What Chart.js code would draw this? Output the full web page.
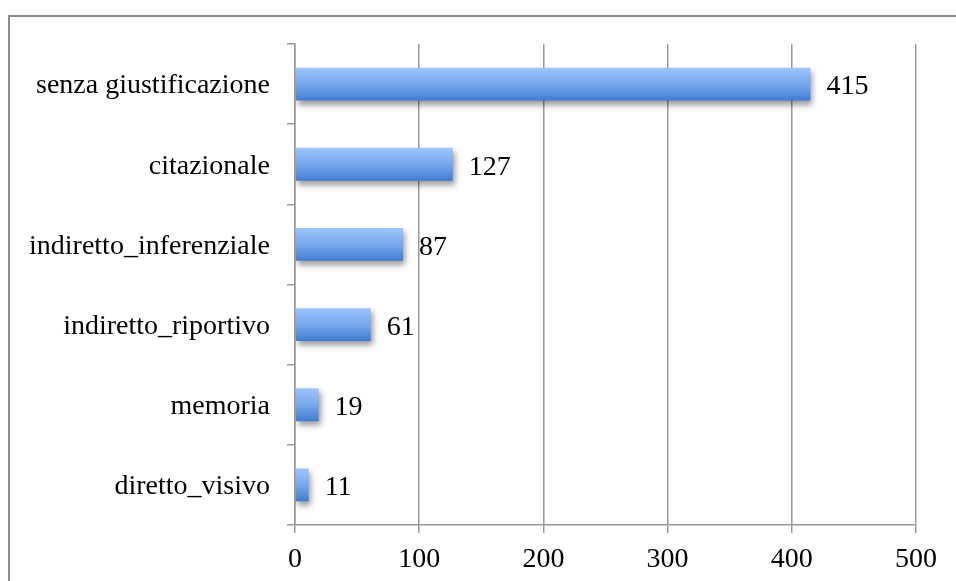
<!DOCTYPE html>
<html>
<head>
<meta charset="utf-8">
<script src="https://cdn.jsdelivr.net/npm/chart.js@4"></script>
<style>
  body { margin: 0; background: #fff; }
  #wrap { position: relative; width: 956px; height: 581px; overflow: hidden; }
  #frame { position: absolute; left: 8px; top: 15px; width: 980px; height: 600px; border: 2px solid #8e8e8e; }
  #giustificazioni { position: absolute; left: 0; top: 0; }
</style>
</head>
<body>
<div id="wrap">
  <div id="frame"></div>
  <canvas id="giustificazioni" width="956" height="581"></canvas>
</div>
<script>
const categories = [
  "senza giustificazione",
  "citazionale",
  "indiretto_inferenziale",
  "indiretto_riportivo",
  "memoria",
  "diretto_visivo",
];
const counts = [415, 127, 87, 61, 19, 11];
const xTicks = [0, 100, 200, 300, 400, 500];

const font = { family: "'Liberation Serif', 'Times New Roman', serif", size: 28 };
const gray = "#999999";

// gradient per bar, from light top to darker bottom
function barGradient(context) {
  const chart = context.chart;
  if (!chart.chartArea || !chart.scales.y) return "#6fa0e8";
  const y = chart.scales.y;
  const center = y.getPixelForValue(context.dataIndex);
  const half = (y.getPixelForValue(1) - y.getPixelForValue(0)) * 0.41 / 2;
  const g = chart.ctx.createLinearGradient(0, center - half, 0, center + half);
  g.addColorStop(0, "#9dc4fb");
  g.addColorStop(0.5, "#78a8ec");
  g.addColorStop(1, "#3f7cd2");
  return g;
}

const shadowPlugin = {
  id: "barShadow",
  beforeDatasetsDraw(chart) {
    const ctx = chart.ctx;
    ctx.save();
    ctx.shadowColor = "rgba(0,0,0,0.4)";
    ctx.shadowBlur = 6;
    ctx.shadowOffsetX = 2;
    ctx.shadowOffsetY = 4;
  },
  afterDatasetsDraw(chart) {
    chart.ctx.restore();
  },
};

const valueLabels = {
  id: "valueLabels",
  afterDraw(chart) {
    const ctx = chart.ctx;
    const meta = chart.getDatasetMeta(0);
    ctx.save();
    ctx.fillStyle = "#000";
    ctx.font = font.size + "px " + font.family;
    ctx.textAlign = "left";
    ctx.textBaseline = "middle";
    meta.data.forEach((bar, i) => {
      ctx.fillText(String(counts[i]), bar.x + 16, bar.y + 3);
    });
    ctx.restore();
  },
};

new Chart(document.getElementById("giustificazioni"), {
  type: "bar",
  data: {
    labels: categories,
    datasets: [
      {
        data: counts,
        backgroundColor: barGradient,
        borderWidth: 0,
        categoryPercentage: 1,
        barPercentage: 0.41,
      },
    ],
  },
  options: {
    indexAxis: "y",
    responsive: false,
    animation: false,
    layout: { padding: { top: 44, right: 40, left: 0, bottom: 0 } },
    plugins: { legend: { display: false }, tooltip: { enabled: false } },
    scales: {
      x: {
        min: 0,
        max: 500,
        afterBuildTicks: (scale) => {
          scale.ticks = xTicks.map((v) => ({ value: v }));
        },
        afterFit: (scale) => {
          scale.height = 56;
        },
        grid: { color: gray, lineWidth: 1.5, tickLength: 8 },
        border: { color: gray, width: 1.5 },
        ticks: { color: "#000", font: font, padding: 10, maxRotation: 0 },
      },
      y: {
        afterFit: (scale) => {
          scale.width = 295;
        },
        grid: { drawOnChartArea: false, color: gray, lineWidth: 1.5, tickLength: 8 },
        border: { color: gray, width: 1.5 },
        ticks: { color: "#000", font: font, padding: 17, labelOffset: 2 },
      },
    },
  },
  plugins: [shadowPlugin, valueLabels],
});
</script>
</body>
</html>
